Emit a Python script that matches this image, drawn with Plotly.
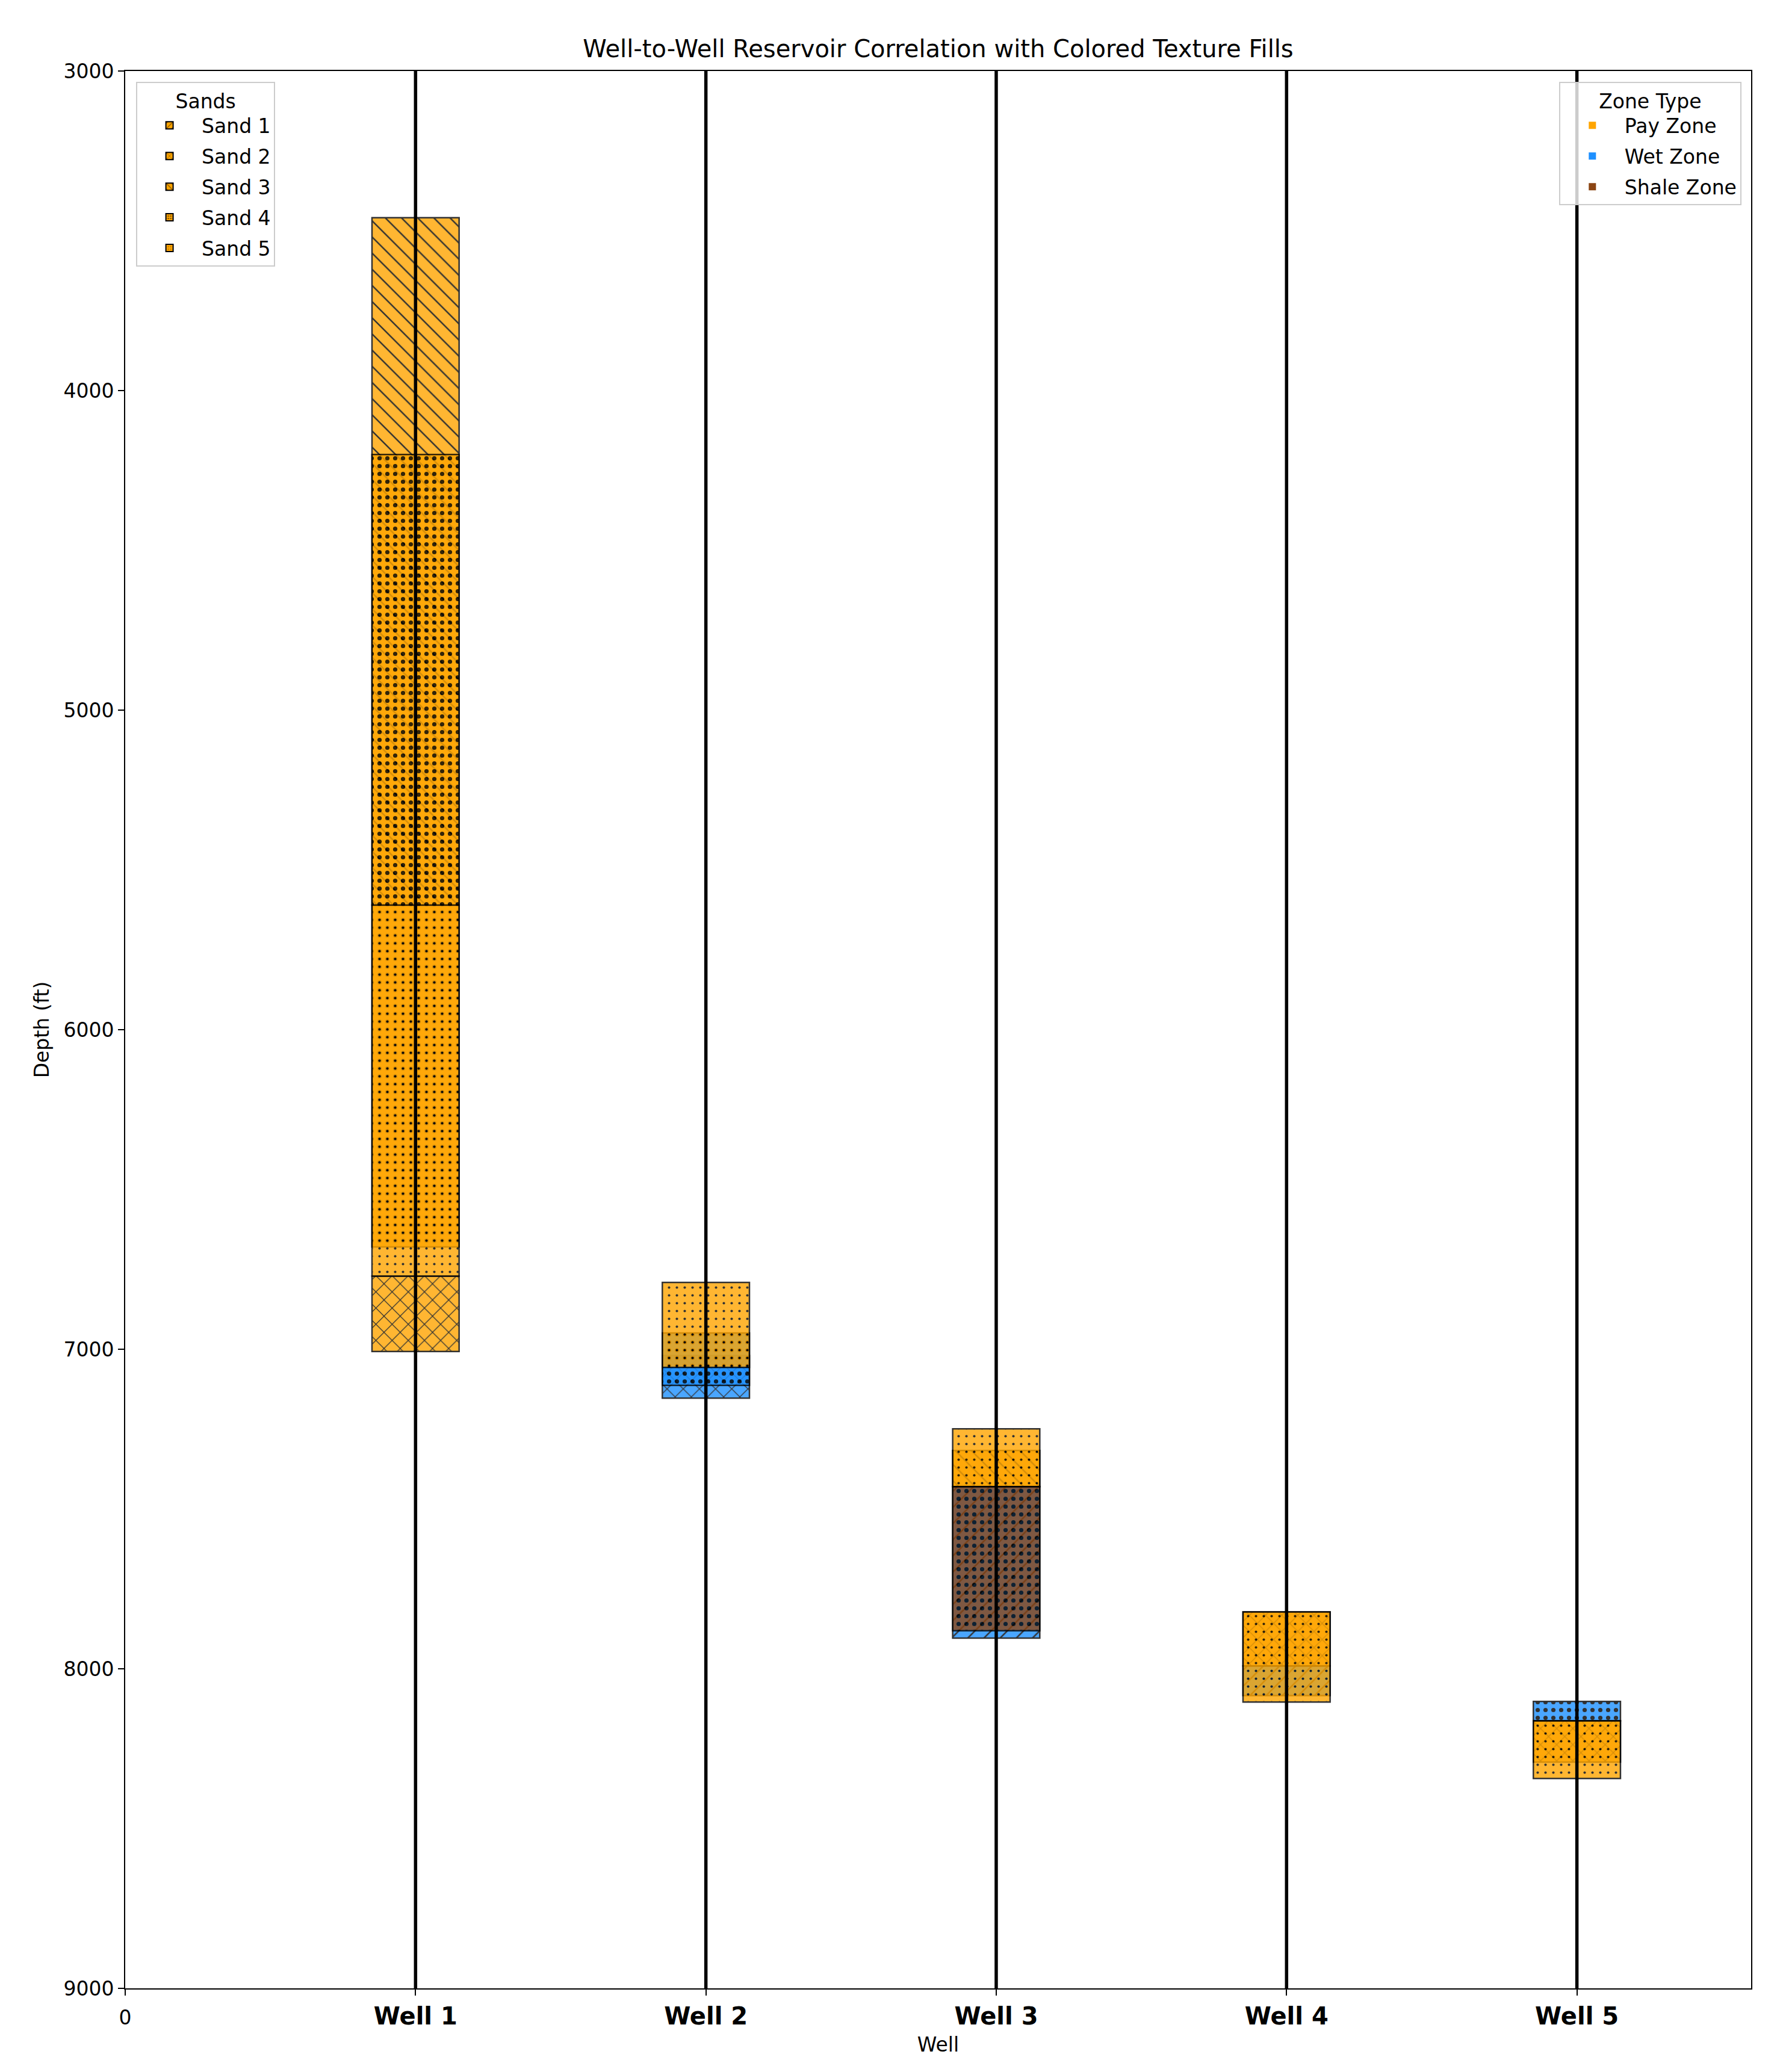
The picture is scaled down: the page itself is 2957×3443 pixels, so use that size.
import plotly.graph_objects as go

# ---------------- data ----------------
wells = ["Well 1", "Well 2", "Well 3", "Well 4", "Well 5"]
well_pos = [1, 2, 3, 4, 5]
sands = ["Sand 1", "Sand 2", "Sand 3", "Sand 4", "Sand 5"]
zones = ["Pay Zone", "Wet Zone", "Shale Zone"]
depth_ticks = [3000, 4000, 5000, 6000, 7000, 8000, 9000]

# sand intervals (drawn in this order, later ones on top)
layer_well = [1, 1, 1, 1,
              2, 2, 2,
              3, 3, 3, 3,
              4, 4, 4,
              5, 5, 5]
layer_sand = ["Sand 2", "Sand 3", "Sand 4", "Sand 5",
              "Sand 2", "Sand 4", "Sand 5",
              "Sand 1", "Sand 3", "Sand 4", "Sand 5",
              "Sand 1", "Sand 2", "Sand 5",
              "Sand 2", "Sand 4", "Sand 5"]
layer_zone = ["Pay Zone", "Pay Zone", "Pay Zone", "Pay Zone",
              "Wet Zone", "Wet Zone", "Pay Zone",
              "Wet Zone", "Pay Zone", "Shale Zone", "Pay Zone",
              "Wet Zone", "Pay Zone", "Pay Zone",
              "Pay Zone", "Wet Zone", "Pay Zone"]
layer_top = [6771, 3459, 4200, 5610,
             7020, 6949, 6791,
             7430, 7317, 7430, 7249,
             7991, 7822, 7822,
             8163, 8102, 8163]
layer_bottom = [7007, 5610, 6680, 6771,
                7153, 7113, 7057,
                7904, 7430, 7881, 7430,
                8084, 7991, 8104,
                8292, 8163, 8343]

# ---------------- styles ----------------
zone_color = {"Pay Zone": "#FFA500", "Wet Zone": "#1E90FF", "Shale Zone": "#8B4513"}
sand_pattern = {
    "Sand 1": dict(shape="/", size=19, solidity=0.13),
    "Sand 2": dict(shape="x", size=19, solidity=0.13),
    "Sand 3": dict(shape="\\", size=19, solidity=0.13),
    "Sand 4": dict(shape=".", size=13, solidity=0.24),
    "Sand 5": dict(shape=".", size=13, solidity=0.08),
}
legend_pattern = {
    "Sand 1": dict(shape="/", size=8, solidity=0.2),
    "Sand 2": dict(shape="x", size=8, solidity=0.2),
    "Sand 3": dict(shape="\\", size=8, solidity=0.2),
    "Sand 4": dict(shape=".", size=5, solidity=0.35),
    "Sand 5": dict(shape=".", size=5, solidity=0.15),
}
FONT = "DejaVu Sans"
BASE = 33
BIG = 40

fig = go.Figure()

for w, s, z, t, b in zip(layer_well, layer_sand, layer_zone, layer_top, layer_bottom):
    p = sand_pattern[s]
    fig.add_trace(go.Bar(
        x=[w], y=[b - t], base=[t], width=0.3,
        marker=dict(color=zone_color[z],
                    line=dict(color="black", width=2.5),
                    pattern=dict(shape=p["shape"], size=p["size"], solidity=p["solidity"],
                                 fgcolor="black", fgopacity=1, fillmode="overlay")),
        opacity=0.8, showlegend=False, hoverinfo="skip"))

# well lines
for xp in well_pos:
    fig.add_trace(go.Scatter(x=[xp, xp], y=[depth_ticks[0], depth_ticks[-1]], mode="lines",
                             line=dict(color="black", width=5.5), showlegend=False,
                             hoverinfo="skip"))

# legend: sands
for s in sands:
    p = legend_pattern[s]
    fig.add_trace(go.Bar(
        x=[None], y=[None], name=s, legend="legend", legendgroup=s,
        marker=dict(color=zone_color["Pay Zone"], line=dict(color="black", width=2),
                    pattern=dict(shape=p["shape"], size=p["size"], solidity=p["solidity"],
                                 fgcolor="black", fillmode="overlay"))))
# legend: zones
for z in zones:
    fig.add_trace(go.Bar(x=[None], y=[None], name=z, legend="legend2", legendgroup=z,
                         marker=dict(color=zone_color[z], line=dict(width=0))))

ticktext = ["<span style='font-size:%dpx'>0</span>" % BASE] + ["<b>%s</b>" % w for w in wells]

OFF = 8  # page body margin
fig.update_layout(
    width=2957, height=3443,
    margin=dict(l=208 - OFF, r=56, t=118 - OFF, b=147),
    paper_bgcolor="white", plot_bgcolor="white",
    barmode="overlay",
    font=dict(family=FONT, size=BASE, color="black"),
    title=dict(text="Well-to-Well Reservoir Correlation with Colored Texture Fills",
               x=(208 - OFF + 2909 - OFF) / 2 / 2957, xanchor="center",
               y=1 - (81 - OFF) / 3443, yanchor="middle",
               font=dict(family=FONT, size=BIG, color="black")),
    xaxis=dict(range=[0, 5.6], tickvals=[0] + well_pos, ticktext=ticktext,
               tickfont=dict(size=BIG, family=FONT, color="black"),
               ticks="outside", ticklen=10, tickwidth=2, tickcolor="black",
               showline=True, linecolor="black", linewidth=2, mirror=True,
               showgrid=False, zeroline=False,
               title=dict(text="Well", font=dict(size=BASE), standoff=14)),
    yaxis=dict(range=[depth_ticks[-1], depth_ticks[0]], tickvals=depth_ticks,
               tickfont=dict(size=BASE, family=FONT, color="black"),
               ticks="outside", ticklen=10, tickwidth=2, tickcolor="black",
               showline=True, linecolor="black", linewidth=2, mirror=True,
               showgrid=False, zeroline=False,
               title=dict(text="Depth (ft)", font=dict(size=BASE), standoff=14)),
    legend=dict(title=dict(text="Sands", side="top center", font=dict(size=BASE)),
                x=0.0067, y=0.9945, xanchor="left", yanchor="top",
                bgcolor="rgba(255,255,255,0.8)", bordercolor="#CCCCCC", borderwidth=2,
                font=dict(size=BASE), itemwidth=97, tracegroupgap=5,
                traceorder="grouped"),
    legend2=dict(title=dict(text="Zone Type", side="top center", font=dict(size=BASE)),
                 x=0.994, y=0.9945, xanchor="right", yanchor="top",
                 bgcolor="rgba(255,255,255,0.8)", bordercolor="#CCCCCC", borderwidth=2,
                 font=dict(size=BASE), itemwidth=97, tracegroupgap=5,
                 traceorder="grouped"),
)

fig.write_html("out.html")
